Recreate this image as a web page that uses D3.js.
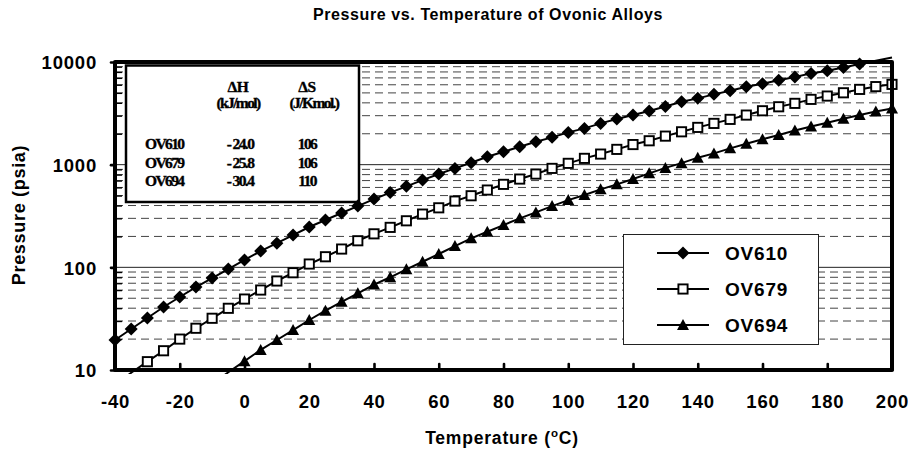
<!DOCTYPE html>
<html><head><meta charset="utf-8">
<script src="https://cdn.jsdelivr.net/npm/d3@7"></script>
<style>
body{margin:0;background:#fff;}
svg{display:block;}
.sans{font-family:"Liberation Sans",Arial,sans-serif;font-weight:bold;}
.serif{font-family:"Liberation Serif","Times New Roman",serif;font-weight:bold;}
</style></head><body>
<svg id="chart" width="908" height="455"></svg>
<script>
// ---------------- data ----------------
const temperatures = [-40,-35,-30,-25,-20,-15,-10,-5,0,5,10,15,20,25,30,35,40,45,50,55,60,65,70,75,80,85,90,95,100,105,110,115,120,125,130,135,140,145,150,155,160,165,170,175,180,185,190,195,200];
const ov610 = [19.6,25.1,32.1,41.1,51.4,64.3,78.7,96.2,118,144,172,206,247,289,338,395,462,535,615,708,810,920,1043,1194,1336,1494,1671,1845,2063,2256,2523,2780,3041,3330,3680,4096,4424,4839,5245,5738,6150,6640,7150,7745,8209,8858,9550,10280,11060];
const ov679 = [7.1,9.4,12.05,15.4,20.0,25.5,31.9,39.9,49.1,60.1,73.6,88.6,107.7,126.8,150.7,181.5,212,245,284,330,380,442,498,566,643,724,810,920,1030,1152,1268,1409,1570,1709,1897,2090,2307,2523,2761,3041,3350,3664,3955,4325,4659,5015,5410,5758,6053];
const ov694 = [null,null,null,null,null,null,7.3,9.5,12.2,15.7,19.6,24.5,30.7,37.8,46.2,55.8,68,80,95.7,113.4,134.8,161,191.6,222,258,300,343,395,452,506,575,643,724,823,930,1035,1170,1288,1442,1600,1765,1942,2150,2350,2560,2800,3050,3300,3532];
const seriesNames = ["OV610","OV679","OV694"];
const markerTypes = ["diamond","square","triangle"];
const xTicks = [-40,-20,0,20,40,60,80,100,120,140,160,180,200];
const yTicks = [10,100,1000,10000];
const yMinor = [20,30,40,50,60,70,80,90,200,300,400,500,600,700,800,900,2000,3000,4000,5000,6000,7000,8000,9000];
const tableHeader = ["ΔH","ΔS"];
const tableUnits = ["(kJ/mol)","(J/Kmol.)"];
const tableRows = [["OV610","- 24.0","106"],["OV679","- 25.8","106"],["OV694","- 30.4","110"]];
const titleText = "Pressure vs. Temperature of Ovonic Alloys";
const xTitle = "Temperature (";
const yTitle = "Pressure (psia)";

// ---------------- layout ----------------
const svg = d3.select("#chart");
const L = 115, R = 892, T = 62, B = 370;
const x = d3.scaleLinear().domain([-40, 200]).range([L, R]);
const y = d3.scaleLog().domain([10, 10000]).range([B, T]);

const allSeries = [ov610, ov679, ov694].map((vals, i) => ({
  name: seriesNames[i], marker: markerTypes[i],
  points: temperatures.map((t, j) => ({t, p: vals[j]}))
}));

// gridlines
const grid = svg.append("g");
grid.selectAll("line.minor").data(yMinor).join("line")
  .attr("x1", L).attr("x2", R).attr("y1", d => y(d)).attr("y2", d => y(d))
  .attr("stroke", "#444").attr("stroke-width", 1).attr("stroke-dasharray", "8,5");
grid.selectAll("line.major").data([100, 1000]).join("line")
  .attr("x1", L).attr("x2", R).attr("y1", d => y(d)).attr("y2", d => y(d))
  .attr("stroke", "#222").attr("stroke-width", 1);

// inset table box
svg.append("rect").attr("x", 126).attr("y", 65.5).attr("width", 233).attr("height", 136.5)
  .attr("fill", "#fff").attr("stroke", "#000").attr("stroke-width", 2.5);
const tbl = svg.append("g").attr("class", "serif").attr("font-size", 15.5).attr("letter-spacing", -1.6)
  .attr("stroke", "#000").attr("stroke-width", 0.35);
tbl.append("text").attr("x", 238).attr("y", 92).attr("text-anchor", "middle").attr("letter-spacing", -0.5).text(tableHeader[0]);
tbl.append("text").attr("x", 307).attr("y", 92).attr("text-anchor", "middle").attr("letter-spacing", -0.5).text(tableHeader[1]);
tbl.append("text").attr("x", 238).attr("y", 108).attr("text-anchor", "middle").text(tableUnits[0]);
tbl.append("text").attr("x", 314).attr("y", 108).attr("text-anchor", "middle").text(tableUnits[1]);
tableRows.forEach((row, i) => {
  const by = 149 + i * 18.5;
  tbl.append("text").attr("x", 145).attr("y", by).text(row[0]);
  tbl.append("text").attr("x", 240).attr("y", by).attr("text-anchor", "middle").text(row[1]);
  tbl.append("text").attr("x", 307).attr("y", by).attr("text-anchor", "middle").text(row[2]);
});

// legend box
svg.append("rect").attr("x", 623.5).attr("y", 234.5).attr("width", 195).attr("height", 110)
  .attr("fill", "#fff").attr("stroke", "#222").attr("stroke-width", 1);

// marker drawing
function drawMarker(g, type) {
  if (type === "diamond") {
    g.append("path").attr("d", "M0,-6.5L6.5,0L0,6.5L-6.5,0Z").attr("fill", "#000");
  } else if (type === "square") {
    g.append("rect").attr("x", -4.6).attr("y", -4.6).attr("width", 9.2).attr("height", 9.2)
      .attr("fill", "#fff").attr("stroke", "#000").attr("stroke-width", 1.9);
  } else {
    g.append("path").attr("d", "M0,-6L6,5L-6,5Z").attr("fill", "#000");
  }
}

// clip for lines
svg.append("clipPath").attr("id", "clipLines").append("rect")
  .attr("x", L - 2).attr("y", 54).attr("width", R - L + 6).attr("height", 374 - 54);

const line = d3.line().defined(d => d.p != null).x(d => x(d.t)).y(d => y(d.p));
const plot = svg.append("g");
allSeries.forEach(s => {
  plot.append("path").datum(s.points).attr("d", line)
    .attr("fill", "none").attr("stroke", "#000").attr("stroke-width", 2)
    .attr("clip-path", "url(#clipLines)");
});
allSeries.forEach(s => {
  s.points.filter(d => d.p != null && d.p >= 10 && d.p <= 10000).forEach(d => {
    const g = plot.append("g").attr("transform", `translate(${x(d.t)},${y(d.p)})`);
    drawMarker(g, s.marker);
  });
});

// legend entries
allSeries.forEach((s, i) => {
  const ly = 253 + i * 36;
  svg.append("line").attr("x1", 657).attr("x2", 709).attr("y1", ly).attr("y2", ly)
    .attr("stroke", "#000").attr("stroke-width", 2);
  drawMarker(svg.append("g").attr("transform", `translate(683,${ly})`), s.marker);
  svg.append("text").attr("class", "sans").attr("x", 725).attr("y", ly).attr("dy", "0.36em")
    .attr("font-size", 19).attr("letter-spacing", 0.8).text(s.name);
});

// frame
svg.append("rect").attr("x", L).attr("y", T).attr("width", R - L).attr("height", B - T)
  .attr("fill", "none").attr("stroke", "#000").attr("stroke-width", 4).attr("stroke-linejoin", "round");

// axes
const xAxis = d3.axisBottom(x).tickValues(xTicks).tickSizeInner(-6).tickSizeOuter(0)
  .tickPadding(25).tickFormat(d => String(d));
const gx = svg.append("g").attr("transform", `translate(0,${B})`).call(xAxis);
gx.select(".domain").remove();
gx.selectAll(".tick line").attr("stroke", "#000").attr("stroke-width", 2.6).attr("stroke-linecap", "round");
gx.selectAll(".tick text").attr("class", "sans").attr("font-size", 18.5).attr("letter-spacing", 0.8)
  .attr("fill", "#000");

const yAxis = d3.axisLeft(y).tickValues(yTicks).tickSizeInner(4).tickSizeOuter(0)
  .tickPadding(14).tickFormat(d => String(d));
const gy = svg.append("g").attr("transform", `translate(${L},0)`).call(yAxis);
gy.select(".domain").remove();
gy.selectAll(".tick line").attr("stroke", "#000").attr("stroke-width", 2.6).attr("stroke-linecap", "round");
gy.selectAll(".tick text").attr("class", "sans").attr("font-size", 18.5).attr("letter-spacing", 0.8)
  .attr("fill", "#000").attr("dy", "0.36em");

const yAxisMinor = d3.axisLeft(y).tickValues(yMinor).tickSizeInner(-7).tickSizeOuter(0).tickFormat(() => "");
const gym = svg.append("g").attr("transform", `translate(${L},0)`).call(yAxisMinor);
gym.select(".domain").remove();
gym.selectAll(".tick line").attr("stroke", "#000").attr("stroke-width", 1.3);

// titles
svg.append("text").attr("class", "sans").attr("x", 488).attr("y", 20).attr("text-anchor", "middle")
  .attr("font-size", 16).attr("letter-spacing", 0.6).text(titleText);

const xt = svg.append("text").attr("class", "sans").attr("x", 502).attr("y", 444).attr("text-anchor", "middle")
  .attr("font-size", 17.5).attr("letter-spacing", 0.8);
xt.append("tspan").text(xTitle);
xt.append("tspan").attr("font-size", 11.5).attr("dy", -7).text("o");
xt.append("tspan").attr("dy", 7).text("C)");

svg.append("text").attr("class", "sans").attr("transform", "translate(25,215) rotate(-90)")
  .attr("text-anchor", "middle").attr("font-size", 18).attr("letter-spacing", 0.7).text(yTitle);
</script>
</body></html>
